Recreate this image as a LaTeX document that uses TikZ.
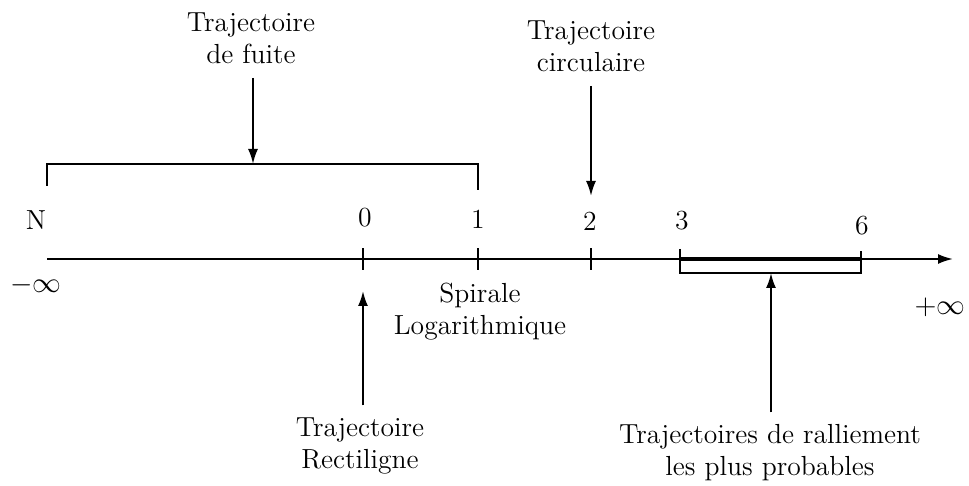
\documentclass[tikz,border=0pt]{standalone}
\usetikzlibrary{arrows.meta}
\begin{document}
\begin{tikzpicture}[x=0.5pt,y=-0.5pt,
  lbl/.style={font=\fontsize{13.8}{16}\selectfont, align=center, inner sep=0pt},
  ln/.style={line width=1pt},
  arr/.style={ln,-{Latex[length=7.5pt,width=5pt]}}]
\useasboundingbox (0,0) rectangle (969,486);
% axis
\coordinate (axL) at (47,259);
\coordinate (axR) at (953,259);
\draw[arr] (axL) -- (axR);
% ticks
\coordinate (t0) at (363,259);
\coordinate (t1) at (478,259);
\coordinate (t2) at (591,259);
\coordinate (t3) at (680,259);
\coordinate (t6) at (861,259);
\foreach \p in {t0,t1,t2}{\draw[ln] ([yshift=-5.5pt]\p) -- ([yshift=5.5pt]\p);}
% box 3-6
\draw[line width=2.4pt] (t3) -- (t6);
\draw[ln] ([yshift=5pt]t3) -- ([yshift=-7pt]t3) -- ([yshift=-7pt]t6) -- ([yshift=4pt]t6);
\coordinate (ralT) at (771,273);
% bracket
\coordinate (brL) at (47,164);
\coordinate (brR) at (478,164);
\coordinate (brM) at (253,164);
\draw[ln] ([yshift=-11pt]brL) -- (brL) -- (brR) -- ([yshift=-13pt]brR);
% tick labels
\node[lbl] (lN) at (36,220) {N};
\node[lbl] (l0) at (365,218) {0};
\node[lbl] (l1) at (478,219) {1};
\node[lbl] (l2) at (590,221) {2};
\node[lbl] (l3) at (682,221) {3};
\node[lbl] (l6) at (862,226) {6};
\node[lbl] (minf) at (36,285) {$-\infty$};
\node[lbl] (pinf) at (940,307) {$+\infty$};
% labels
\node[lbl] (fuite) at (251,38) {Trajectoire\\de fuite};
\node[lbl] (circ) at (591,46) {Trajectoire\\circulaire};
\node[lbl] (spir) at (480,312) {Spirale\\Logarithmique};
\node[lbl] (rect) at (360,446) {Trajectoire\\Rectiligne};
\node[lbl] (ral) at (770,453) {Trajectoires de ralliement\\les plus probables};
\coordinate (circT) at (591,196);
\coordinate (rectT) at (363,291);
% arrows
\draw[arr, shorten <=7pt] (fuite.south -| brM) -- (brM);
\draw[arr, shorten <=7pt] (circ.south) -- (circT);
\draw[arr, shorten <=6pt] (rect.north -| rectT) -- (rectT);
\draw[arr, shorten <=6pt] (ral.north -| ralT) -- (ralT);
\end{tikzpicture}
\end{document}
